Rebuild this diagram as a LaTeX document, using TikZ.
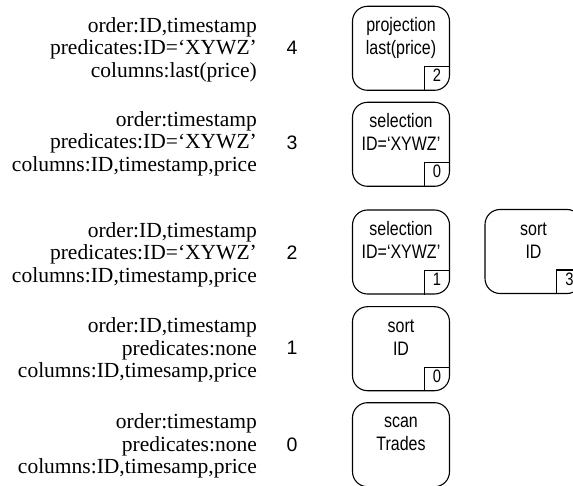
\documentclass[tikz,border=0pt]{standalone}
\usepackage{fontspec}
\setmainfont{Liberation Serif}
\newfontfamily\boxfont[FakeStretch=0.82]{Liberation Sans}
\newfontfamily\lvlfont{Liberation Sans}
\begin{document}
\begin{tikzpicture}[x=1pt,y=-1pt,
  opbox/.style={draw,line width=1.1pt,rounded corners=15pt,minimum width=97pt,minimum height=84pt,inner sep=0pt},
  optext/.style={font=\boxfont\fontsize{19.5}{23}\selectfont,align=center,anchor=north,inner sep=0pt},
  props/.style={font=\fontsize{21.5}{22.5}\selectfont,align=right,anchor=east,inner sep=0pt},
  lvl/.style={font=\lvlfont\fontsize{19.5}{23}\selectfont,inner sep=0pt,anchor=base},
  idx/.style={font=\boxfont\fontsize{18}{20}\selectfont,inner sep=0pt,anchor=base},
  cell/.style={line width=1.1pt}]
\useasboundingbox (0,0) rectangle (573,486);
\clip (0,0) rectangle (573,486);
\newcommand{\fs}{\rule{0pt}{15pt}}
\newcommand{\ls}{\rule[-5pt]{0pt}{5pt}}
\newcommand{\bs}{\rule{0pt}{15pt}}
% property labels
\node[props] (p4) at (257,50) {\fs order:ID,timestamp\\predicates:ID=‘XYWZ’\\columns:last(price)\ls};
\node[props] (p3) at (257,144) {\fs order:timestamp\\predicates:ID=‘XYWZ’\\columns:ID,timestamp,price\ls};
\node[props] (p2) at (257,255) {\fs order:ID,timestamp\\predicates:ID=‘XYWZ’\\columns:ID,timestamp,price\ls};
\node[props] (p1) at (257,350) {\fs order:ID,timestamp\\predicates:none\\columns:ID,timesamp,price\ls};
\node[props] (p0) at (257,446) {\fs order:timestamp\\predicates:none\\columns:ID,timesamp,price\ls};
% level numbers
\node[lvl] (l4) at (292,55) {4};
\node[lvl] (l3) at (292,150) {3};
\node[lvl] (l2) at (292,260) {2};
\node[lvl] (l1) at (292,355) {1};
\node[lvl] (l0) at (292,451) {0};
% operator boxes
\node[opbox] (b4) at (401,48.3) {};
\node[opbox] (b3) at (401,144.3) {};
\node[opbox] (b2) at (401,252) {};
\node[opbox] (bs) at (533.5,251.5) {};
\node[opbox] (b1) at (401,348.7) {};
\node[opbox] (b0) at (401,444.7) {};
% box texts
\node[optext] (t4) at ([yshift=-11pt]b4.north) {\bs projection\\last(price)};
\node[optext] (t3) at ([yshift=-11pt]b3.north) {\bs selection\\ID=‘XYWZ’};
\node[optext] (t2) at ([yshift=-11pt]b2.north) {\bs selection\\ID=‘XYWZ’};
\node[optext] (ts) at ([yshift=-11pt]bs.north) {\bs sort\\ID};
\node[optext] (t1) at ([yshift=-11pt]b1.north) {\bs sort\\ID};
\node[optext] (t0) at ([yshift=-10pt]b0.north) {\bs scan\\Trades};
% index cells
\foreach \b/\n in {b4/2,b3/0,b2/1,bs/3,b1/0}{
  \draw[cell] ([xshift=-26pt]\b.south east) |- ([yshift=24pt]\b.south east);
  \node[idx] (i\b) at ([xshift=-13pt,yshift=9pt]\b.south east) {\n};
}
\end{tikzpicture}
\end{document}
